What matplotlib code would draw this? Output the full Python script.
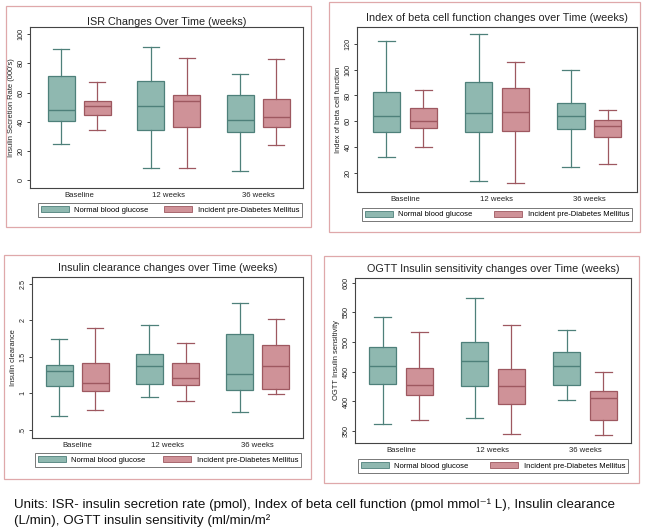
import matplotlib
matplotlib.use("Agg")
import matplotlib.pyplot as plt
from matplotlib.patches import Rectangle, Patch

plt.rcParams['font.family'] = ['Liberation Sans', 'DejaVu Sans']

# Data: [lower whisker, Q1, median, Q3, upper whisker] per time point
timepoints = ["Baseline", "12 weeks", "36 weeks"]
groups = ["Normal blood glucose", "Incident pre-Diabetes Mellitus"]

isr_normal = [[25, 40.5, 48, 71.5, 90], [8, 34, 51, 68, 91], [6, 33, 41, 58.5, 72.5]]
isr_incident = [[34, 44.5, 50.5, 54.5, 67], [8.5, 36.5, 54, 58.5, 84], [24, 36.5, 43, 55.5, 83]]

beta_normal = [[32.5, 52, 64, 83, 122], [13.5, 52, 66.5, 90.5, 127.5], [25, 54, 64.5, 74.5, 100]]
beta_incident = [[40.5, 55, 60.5, 70.5, 84.5], [12, 52.5, 67, 86, 106], [27, 47.5, 56.5, 61, 69]]

clear_normal = [[0.69, 1.10, 1.31, 1.39, 1.74], [0.95, 1.13, 1.37, 1.54, 1.93], [0.74, 1.05, 1.26, 1.81, 2.24]]
clear_incident = [[0.77, 1.03, 1.14, 1.42, 1.89], [0.90, 1.11, 1.21, 1.42, 1.69], [0.99, 1.06, 1.37, 1.66, 2.01]]

ogtt_normal = [[362, 429, 460, 492, 542], [372, 426, 468, 500, 575], [402, 428, 460, 484, 520]]
ogtt_incident = [[368, 411, 427, 456, 517], [345, 396, 426, 455, 528], [344, 368, 406, 418, 450]]

# colours
NORM_FILL, NORM_EDGE = "#8fb8b0", "#4e807a"
INC_FILL, INC_EDGE = "#cf9298", "#9e5860"
PANEL_EDGE = "#dfa8aa"

W, H = 647, 530
fig = plt.figure(figsize=(W / 100, H / 100), dpi=100)


def fx(x):
    return x / W


def fy(y):
    return 1 - y / H


def to_stats(rows):
    return [dict(whislo=r[0], q1=r[1], med=r[2], q3=r[3], whishi=r[4]) for r in rows]


def panel(box, ax_px, legend_px, title, ylabel, normal, incident, yticks, yticklabels,
          ylim, xlim, title_pad=3):
    # panel frame
    x0, y0, x1, y1 = box
    fig.add_artist(Rectangle((fx(x0), fy(y1)), fx(x1) - fx(x0), fy(y0) - fy(y1),
                             transform=fig.transFigure, fill=False,
                             edgecolor=PANEL_EDGE, linewidth=0.9))
    l, t, r, b = ax_px
    ax = fig.add_axes([fx(l), fy(b), fx(r) - fx(l), fy(t) - fy(b)])

    pos = list(range(1, len(timepoints) + 1))
    for data, offs, fc, ec in [(normal, -0.2, NORM_FILL, NORM_EDGE),
                               (incident, 0.2, INC_FILL, INC_EDGE)]:
        ax.bxp(to_stats(data), positions=[p + offs for p in pos], widths=0.3,
               patch_artist=True, showfliers=False, manage_ticks=False,
               capwidths=0.18,
               boxprops=dict(facecolor=fc, edgecolor=ec, linewidth=0.9),
               medianprops=dict(color=ec, linewidth=1.0),
               whiskerprops=dict(color=ec, linewidth=0.9),
               capprops=dict(color=ec, linewidth=0.9))

    ax.set_xlim(*xlim)
    ax.set_ylim(*ylim)
    ax.set_xticks(pos)
    ax.set_xticklabels(timepoints)
    ax.tick_params(axis="x", length=0, labelsize=5.6, pad=3, colors="#222222")
    ax.set_yticks(yticks)
    ax.set_yticklabels(yticklabels, rotation=90, va="center")
    ax.tick_params(axis="y", length=2.5, width=0.6, labelsize=5.2, pad=1.5, colors="#222222")
    ax.set_ylabel(ylabel, fontsize=5.4, labelpad=2, color="#222222")
    for s in ax.spines.values():
        s.set_color("#444444")
        s.set_linewidth(0.8)
    ax.set_title(title, fontsize=7.8, pad=title_pad, color="#222222")

    lx0, ly0, lx1, ly1 = legend_px
    handles = [Patch(facecolor=NORM_FILL, edgecolor=NORM_EDGE, linewidth=0.6),
               Patch(facecolor=INC_FILL, edgecolor=INC_EDGE, linewidth=0.6)]
    leg = fig.legend(handles, groups, loc="center", ncol=2, mode="expand",
                     bbox_to_anchor=(fx(lx0), fy(ly1), fx(lx1) - fx(lx0), fy(ly0) - fy(ly1)),
                     bbox_transform=fig.transFigure, fontsize=5.5, frameon=True,
                     fancybox=False, edgecolor="#555555", handlelength=3.7,
                     handleheight=0.9, handletextpad=0.7, borderpad=0.35,
                     borderaxespad=0, columnspacing=1.5)
    leg.get_frame().set_linewidth(0.7)
    return ax


panel((6, 6, 311, 227), (30, 27, 303, 188), (38, 203, 302, 217),
      "ISR Changes Over Time (weeks)", "Insulin Secretion Rate (000's)",
      isr_normal, isr_incident, [0, 20, 40, 60, 80, 100],
      ["0", "20", "40", "60", "80", "100"], (-5.5, 105), (0.45, 3.5), title_pad=1.5)

panel((329, 2, 640, 232), (357, 27, 637, 192), (362, 208, 632, 221),
      "Index of beta cell function changes over Time (weeks)", "Index of beta cell function",
      beta_normal, beta_incident, [20, 40, 60, 80, 100, 120],
      ["20", "40", "60", "80", "100", "120"], (5.3, 133), (0.48, 3.52), title_pad=4)

panel((4, 255, 311, 479), (32, 277, 303, 438), (35, 453, 301, 467),
      "Insulin clearance changes over Time (weeks)", "Insulin clearance",
      clear_normal, clear_incident, [0.5, 1, 1.5, 2, 2.5],
      [".5", "1", "1.5", "2", "2.5"], (0.39, 2.59), (0.5, 3.5), title_pad=4)

panel((324, 256, 639, 483), (355, 278, 631, 443), (358, 459, 628, 473),
      "OGTT Insulin sensitivity changes over Time (weeks)", "OGTT Insulin sensitivity",
      ogtt_normal, ogtt_incident, [350, 400, 450, 500, 550, 600],
      ["350", "400", "450", "500", "550", "600"], (330, 608), (0.5, 3.5), title_pad=4)

# caption under the panels
fig.text(fx(14), fy(508), "Units: ISR- insulin secretion rate (pmol), Index of beta cell function "
         "(pmol mmol\u207b\u00b9 L), Insulin clearance",
         fontsize=9.6, va="baseline", ha="left", color="#111111")
fig.text(fx(14), fy(524), "(L/min), OGTT insulin sensitivity (ml/min/m\u00b2",
         fontsize=9.6, va="baseline", ha="left", color="#111111")

fig.savefig("out.png", dpi=100, facecolor="white")
